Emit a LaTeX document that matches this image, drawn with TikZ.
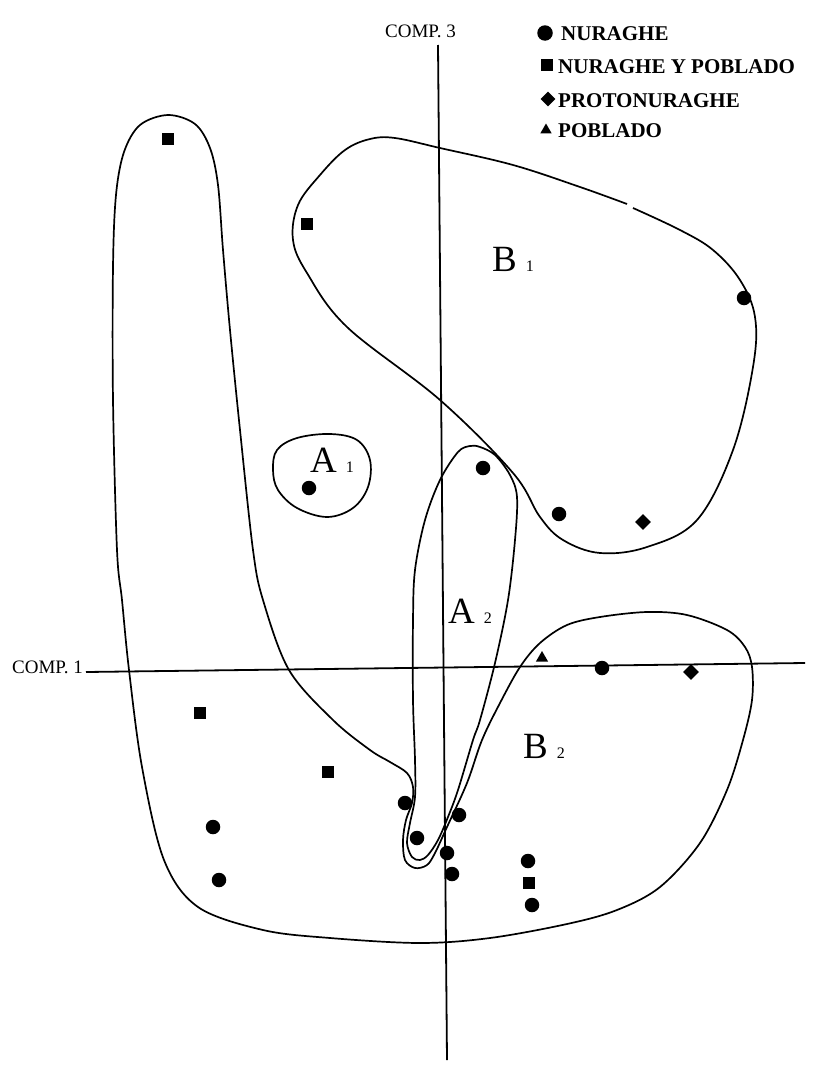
\documentclass[tikz,border=0pt]{standalone}
\usepackage{fontspec}
\setmainfont{Liberation Serif}
\usetikzlibrary{shapes.geometric}
\newcommand\grpsub[1]{\hspace{9pt}{\fontsize{16}{16}\selectfont #1}}
\begin{document}
\begin{tikzpicture}[x=1pt,y=-1pt,
  contour/.style={line width=1.7pt, black},
  axisline/.style={line width=1.8pt, black},
  nur/.style={circle, fill=black, inner sep=0pt, minimum size=14.5pt},
  nyp/.style={rectangle, fill=black, inner sep=0pt, minimum size=11.5pt},
  proto/.style={diamond, fill=black, inner sep=0pt, minimum size=16pt},
  pob/.style={regular polygon, regular polygon sides=3, fill=black, inner sep=0pt, minimum size=14pt},
  grp/.style={anchor=base west, inner sep=0pt, font=\fontsize{37}{37}\selectfont},
  axlabel/.style={anchor=base west, inner sep=0pt, font=\fontsize{19}{19}\selectfont},
  legtext/.style={anchor=base west, inner sep=0pt, font=\fontsize{21}{21}\selectfont\bfseries},
]
\useasboundingbox (0,0) rectangle (830,1068);
\fill[white] (0,0) rectangle (830,1068);

% axes
\coordinate (v1) at (438,45);
\coordinate (v2) at (447,1060);
\coordinate (h1) at (86,672);
\coordinate (h2) at (805,663);
\draw[axisline] (v1) -- (v2);
\draw[axisline] (h1) -- (h2);
\node[axlabel] (c3) at (385,37) {COMP. 3};
\node[axlabel] (c1) at (12,673) {COMP. 1};

% B1 contour (with small gap at top)
\draw[contour] plot[smooth, tension=0.6] coordinates {
 (633,208) (680,230) (713,250) (740,280) (755,317) (753,367) (733,450)
 (697,520) (647,547) (600,553) (563,540) (540,517) (513,473)
 (440,400) (347,327) (307,273) (293,240) (298,205) (320,175)
 (345,150) (370,139) (395,138) (440,148) (513,165) (580,187) (627,204)};

% A1 contour
\draw[contour] plot[smooth cycle, tension=0.6] coordinates {
 (277,450) (297,438) (330,434) (357,440) (370,460) (368,487) (353,508)
 (327,517) (297,508) (278,490) (273,470)};

% A2 contour
\draw[contour] plot[smooth cycle, tension=0.55] coordinates {
 (470,446) (480,447) (495,455) (510,475) (517,497) (515,540) (508,600)
 (495,663) (480,720) (473,740) (458,790) (448,817) (438,840) (428,855)
 (420,860) (412,857) (407,843) (410,823) (415,797) (415,760) (413,700)
 (413,620) (415,570) (425,520) (440,480) (458,452)};

% big outer contour (left arm + B2)
\draw[contour] plot[smooth cycle, tension=0.55] coordinates {
 (168,115) (195,124) (210,148) (218,185) (223,250) (230,330) (240,430)
 (253,550) (263,600) (289,670) (333,720) (370,750) (390,762) (407,773) (413,787)
 (412,803) (406,820) (403,840) (405,860) (415,868) (427,865) (435,853)
 (447,827) (467,783) (482,740) (500,703) (520,667) (540,643) (567,625)
 (600,617) (647,612) (687,615) (727,630) (745,647) (752,667) (752,700)
 (743,740) (727,790) (700,843) (660,887) (617,910) (567,924)
 (490,938) (420,943) (330,938) (263,930) (198,907) (164,860) (142,767) (129,670)
 (122,600) (117,550) (113,400) (113,267) (116,195) (124,152) (140,125)};

% group labels
\node[grp] (lb1) at (492,271) {B\grpsub{1}};
\node[grp] (la1) at (310,472) {A\grpsub{1}};
\node[grp] (la2) at (448,623) {A\grpsub{2}};
\node[grp] (lb2) at (523,758) {B\grpsub{2}};

% squares: nuraghe y poblado
\node[nyp] (s1) at (168,139) {};
\node[nyp] (s2) at (307,224) {};
\node[nyp] (s3) at (200,713) {};
\node[nyp] (s4) at (328,772) {};
\node[nyp] (s5) at (529,883) {};

% circles: nuraghe
\node[nur] (n1) at (744,298) {};
\node[nur] (n2) at (309,488) {};
\node[nur] (n3) at (483,468) {};
\node[nur] (n4) at (559,514) {};
\node[nur] (n5) at (602,668) {};
\node[nur] (n6) at (405,803) {};
\node[nur] (n7) at (459,815) {};
\node[nur] (n8) at (417,838) {};
\node[nur] (n9) at (213,827) {};
\node[nur] (n10) at (219,880) {};
\node[nur] (n11) at (447,853) {};
\node[nur] (n12) at (452,874) {};
\node[nur] (n13) at (528,861) {};
\node[nur] (n14) at (532,905) {};

% diamonds: protonuraghe
\node[proto] (p1) at (643,522) {};
\node[proto] (p2) at (691,672) {};

% triangle: poblado
\node[pob] (t1) at (542,658) {};

% legend
\node[nur, minimum size=15.5pt] (k1) at (545,33) {};
\node[legtext] (k1t) at (561,40) {NURAGHE};
\node[nyp, minimum size=12pt] (k2) at (547,65) {};
\node[legtext] (k2t) at (558,73) {NURAGHE Y POBLADO};
\node[proto, minimum size=15pt] (k3) at (548,99) {};
\node[legtext] (k3t) at (558,107) {PROTONURAGHE};
\node[pob, minimum size=13pt] (k4) at (546,130) {};
\node[legtext] (k4t) at (558,137) {POBLADO};
\end{tikzpicture}
\end{document}
